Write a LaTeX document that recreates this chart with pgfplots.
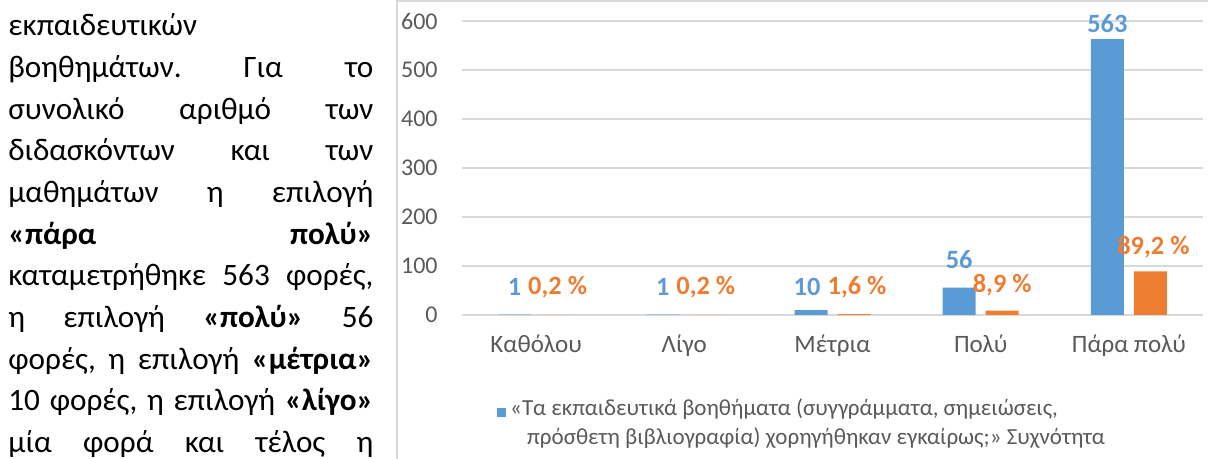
\documentclass[border=0pt]{standalone}
\usepackage{pgfplots}
\pgfplotsset{compat=1.18}
\usepackage{pgfplotstable}
\usepackage{fontspec}
\setmainfont{Carlito}
\definecolor{cblue}{HTML}{5B9BD5}
\definecolor{corange}{HTML}{ED7D31}
\definecolor{tgray}{HTML}{595959}
\definecolor{gridc}{HTML}{D9D9D9}
\pgfplotstableread{
x y lab dy dx
0 1 1 14 0
1 1 1 14 0
2 10 10 11.5 -2
3 56 56 14 0
4 563 563 8 0
}\freq
\pgfplotstableread{
x y lab dy dx
0 0.2 {0,2 \%} 14 0
1 0.2 {0,2 \%} 14 0
2 1.6 {1,6 \%} 13.5 1.5
3 8.9 {8,9 \%} 12.8 0
4 89.2 {89,2 \%} 12 1.5
}\pct
\newcommand\Ln[2]{\node[anchor=base west, inner sep=0pt] at (8,{459-#1}) {\fontsize{15.6}{18}\selectfont\hbox to 182.5pt{#2}};}
\begin{document}
\begin{tikzpicture}
\begin{scope}[x=0.5pt,y=0.5pt]
\useasboundingbox (0,0) rectangle (1208,459);
\draw[gridc, line width=1pt] (397,0) -- (397,458) -- (1208,458);
\Ln{36}{εκπαιδευτικών\hfill}
\Ln{77.7}{βοηθημάτων.\hfill Για\hfill το}
\Ln{119.4}{συνολικό\hfill αριθμό\hfill των}
\Ln{161}{διδασκόντων\hfill και\hfill των}
\Ln{202.8}{μαθημάτων\hfill η\hfill επιλογή}
\Ln{244.5}{\textbf{«πάρα}\hfill\textbf{πολύ»}}
\Ln{286}{καταμετρήθηκε\hfill 563\hfill φορές,}
\Ln{328}{η\hfill επιλογή\hfill\textbf{«πολύ»}\hfill 56}
\Ln{369.6}{φορές,\hfill η\hfill επιλογή\hfill\textbf{«μέτρια»}}
\Ln{411}{10\hfill φορές,\hfill η\hfill επιλογή\hfill\textbf{«λίγο»}}
\Ln{453}{μία\hfill φορά\hfill και\hfill τέλος\hfill η}
\end{scope}
\begin{axis}[
  at={(231pt,72pt)}, anchor=south west, scale only axis,
  width=370.5pt, height=147pt,
  xmin=-0.5, xmax=4.5, ymin=0, ymax=600,
  ybar=5pt, bar width=16.5pt,
  xtick={0,...,4}, xticklabels={Καθόλου,Λίγο,Μέτρια,Πολύ,Πάρα πολύ},
  ytick={0,100,...,600},
  ymajorgrids, grid style={draw=gridc, line width=0.75pt},
  axis line style={draw=none}, major tick length=0pt,
  tick label style={font=\fontsize{12}{14}\selectfont, text=tgray},
  xticklabel style={font=\fontsize{12.5}{14}\selectfont},
  /pgf/number format/assume math mode=true,
  yticklabel style={anchor=east, inner sep=0pt, xshift=-12pt},
  xticklabel style={anchor=base, inner sep=0pt, yshift=-19pt},
  nodes near coords, point meta=explicit symbolic,
  visualization depends on={\thisrow{dy} \as \dy},
  visualization depends on={\thisrow{dx} \as \dx},
  every node near coord/.append style={anchor=center, yshift=\dy pt, xshift=\dx pt, font=\bfseries\fontsize{13.2}{15}\selectfont, inner sep=0pt},
  legend style={at={(0.047,-0.27)}, anchor=north west, draw=none, fill=none, font=\fontsize{11.5}{14.5}\selectfont, text=tgray, cells={align=left}, inner sep=0pt},
  legend image code/.code={\fill[cblue] (0pt,3pt) rectangle (4.5pt,7.5pt);},
  clip=false,
]
\addplot[fill=cblue, draw=none, text=cblue] table[x=x, y=y, meta=lab] {\freq};
\addlegendentry{«Τα εκπαιδευτικά βοηθήματα (συγγράμματα, σημειώσεις,\\\hspace{8.5pt}πρόσθετη βιβλιογραφία) χορηγήθηκαν εγκαίρως;» Συχνότητα}
\addplot[fill=corange, draw=none, text=corange] table[x=x, y=y, meta=lab] {\pct};
\end{axis}
\end{tikzpicture}
\end{document}
